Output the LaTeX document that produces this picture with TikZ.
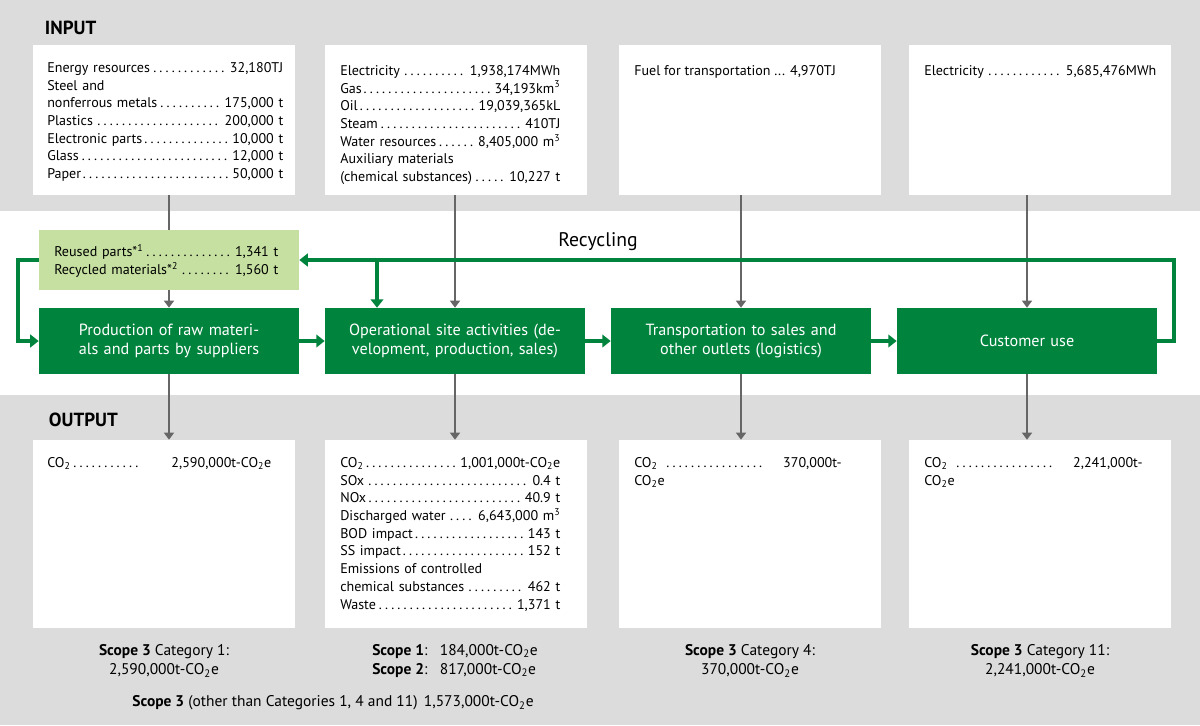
\documentclass[tikz,border=0pt]{standalone}
\usepackage{fontspec}
\setmainfont{PT Sans}
\usetikzlibrary{positioning,calc,arrows.meta}
\definecolor{bandgray}{HTML}{DCDCDC}
\definecolor{darkgreen}{HTML}{00843D}
\definecolor{lightgreen}{HTML}{C5E0A0}
\definecolor{arrowgray}{HTML}{666666}
\newcommand\entry[2]{#1\dotfill\,#2\\}
\newcommand\cotwo{CO\textsubscript{2}}

\begin{document}
\begin{tikzpicture}[x=0.025cm, y=-0.025cm,
    databox/.style={fill=white, minimum width=6.55cm, inner sep=0pt},
    listtext/.style={anchor=north west, align=left, inner sep=0pt, font=\fontsize{10}{12.6}\selectfont},
    procbox/.style={fill=darkgreen, text=white, minimum width=6.5cm, minimum height=1.65cm, text width=6.1cm, align=center, inner sep=0pt, font=\fontsize{11.5}{14}\selectfont},
    scopetext/.style={align=center, font=\fontsize{11}{13.5}\selectfont},
    head/.style={anchor=west, font=\fontsize{13.5}{16}\selectfont\bfseries},
    garrow/.style={arrowgray, line width=1.5pt, -{Triangle[width=7pt,length=5pt]}},
    gline/.style={arrowgray, line width=1.5pt},
    grnarrow/.style={darkgreen, line width=2.8pt, -{Triangle[width=9pt,length=6pt]}}]

        % bands
        \fill[bandgray] (0,0) rectangle (1200,725);
        \fill[white] (0,211) rectangle (1200,395);
        \node[head] (inhead) at (40,28) {INPUT};
        \node[head] (outhead) at (44,420) {OUTPUT};

        % input boxes
        \node[databox, minimum height=3.75cm] (in1) at (164,120) {};
        \node[databox, minimum height=3.75cm] (in2) at (456,120) {};
        \node[databox, minimum height=3.75cm] (in3) at (750,120) {};
        \node[databox, minimum height=3.75cm] (in4) at (1040,120) {};

        \node[listtext, text width=5.9cm] (in1txt) at (47,62) {
            \entry{Energy resources}{32,180TJ}
            Steel and\\
            \entry{nonferrous metals}{175,000 t}
            \entry{Plastics}{200,000 t}
            \entry{Electronic parts}{10,000 t}
            \entry{Glass}{12,000 t}
            \entry{Paper}{50,000 t}};
        \node[listtext, text width=5.5cm] (in2txt) at (340,65) {
            \entry{Electricity}{1,938,174MWh}
            \entry{Gas}{34,193km\textsuperscript{3}}
            \entry{Oil}{19,039,365kL}
            \entry{Steam}{410TJ}
            \entry{Water resources}{8,405,000 m\textsuperscript{3}}
            Auxiliary materials\\
            \entry{(chemical substances)}{10,227 t}};
        \node[listtext] (in3txt) at (634,65) {Fuel for transportation ... 4,970TJ};
        \node[listtext, text width=5.8cm] (in4txt) at (924,65) {\entry{Electricity}{5,685,476MWh}};

        % process row
        \node[fill=lightgreen, minimum width=6.5cm, minimum height=1.5cm, inner sep=0pt] (reuse) at (169,260) {};
        \node[listtext, text width=5.6cm] (reusetxt) at (54,244) {
            \entry{Reused parts*\textsuperscript{1}}{1,341 t}
            \entry{Recycled materials*\textsuperscript{2}}{1,560 t}};
        \node[procbox] (p1) at (169,341) {Production of raw materials and parts by suppliers};
        \node[procbox] (p2) at (455,341) {Operational site activities (development, production, sales)};
        \node[procbox] (p3) at (741,341) {Transportation to sales and other outlets (logistics)};
        \node[procbox] (p4) at (1027,341) {Customer use};
        \node[font=\fontsize{14}{16}\selectfont] (reclabel) at (598,242) {Recycling};

        % output boxes
        \node[databox, minimum height=4.7cm] (out1) at (164,534) {};
        \node[databox, minimum height=4.7cm] (out2) at (456,534) {};
        \node[databox, minimum height=4.7cm] (out3) at (750,534) {};
        \node[databox, minimum height=4.7cm] (out4) at (1040,534) {};

        \node[listtext, text width=5.6cm] (out1txt) at (47,457) {\entry{\cotwo}{\hspace{2em}2,590,000t-\cotwo e}};
        \node[listtext, text width=5.5cm] (out2txt) at (340,457) {
            \entry{\cotwo}{1,001,000t-\cotwo e}
            \entry{SOx}{0.4 t}
            \entry{NOx}{40.9 t}
            \entry{Discharged water}{6,643,000 m\textsuperscript{3}}
            \entry{BOD impact}{143 t}
            \entry{SS impact}{152 t}
            Emissions of controlled\\
            \entry{chemical substances}{462 t}
            \entry{Waste}{1,371 t}};
        \node[listtext, text width=5.8cm] (out3txt) at (634,457) {\cotwo\ \makebox[2.6cm]{\dotfill}\hspace{1.2em}370,000t-\cotwo e};
        \node[listtext, text width=5.8cm] (out4txt) at (924,457) {\cotwo\ \makebox[2.6cm]{\dotfill}\hspace{1.2em}2,241,000t-\cotwo e};

        % scope texts
        \node[scopetext] (sc1) at (164,661) {\textbf{Scope 3} Category 1:\\2,590,000t-\cotwo e};
        \node[scopetext, align=left] (sc2) at (455,661) {\textbf{Scope 1}:\hspace{0.8em}184,000t-\cotwo e\\\textbf{Scope 2}:\hspace{0.8em}817,000t-\cotwo e};
        \node[scopetext] (sc3) at (750,661) {\textbf{Scope 3} Category 4:\\370,000t-\cotwo e};
        \node[scopetext] (sc4) at (1040,661) {\textbf{Scope 3} Category 11:\\2,241,000t-\cotwo e};
        \node[scopetext] (sc5) at (333,703) {\textbf{Scope 3} (other than Categories 1, 4 and 11)\hspace{0.4em}1,573,000t-\cotwo e};

        % gray arrows
        \draw[gline] (reuse.north |- in1.south) -- (reuse.north);
        \draw[garrow] (reuse.south) -- (p1.north);
        \draw[garrow] (p2.north |- in2.south) -- (p2.north);
        \draw[garrow] (p3.north |- in3.south) -- (p3.north);
        \draw[garrow] (p4.north |- in4.south) -- (p4.north);
        \foreach \i in {1,2,3,4}
            \draw[garrow] (p\i.south) -- (p\i.south |- out\i.north);

        % green arrows
        \draw[grnarrow] (p1) -- (p2);
        \draw[grnarrow] (p2) -- (p3);
        \draw[grnarrow] (p3) -- (p4);
        \draw[grnarrow] (p4.east) -- ++(17,0) |- (reuse.east);
        \coordinate (branch) at (377,260);
        \draw[grnarrow] (branch) -- (branch |- p2.north);
        \draw[grnarrow] (reuse.west) -- ++(-21,0) |- (p1.west);

\end{tikzpicture}
\end{document}
